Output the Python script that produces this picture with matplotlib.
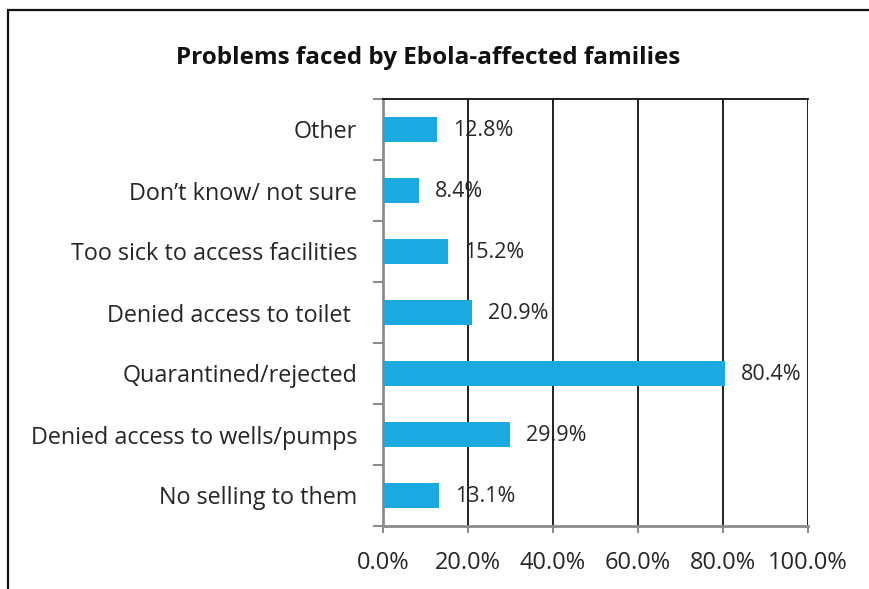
import matplotlib
matplotlib.use("Agg")
import matplotlib.pyplot as plt
from matplotlib.patches import Rectangle
from matplotlib.ticker import FixedLocator

categories = [
    "No selling to them",
    "Denied access to wells/pumps",
    "Quarantined/rejected",
    "Denied access to toilet ",
    "Too sick to access facilities",
    "Don\u2019t know/ not sure",
    "Other",
]
values = [13.1, 29.9, 80.4, 20.9, 15.2, 8.4, 12.8]
x_ticks = [0, 20, 40, 60, 80, 100]
x_tick_labels = ["0.0%", "20.0%", "40.0%", "60.0%", "80.0%", "100.0%"]
title = "Problems faced by Ebola-affected families"

W, H = 870, 589
plt.rcParams["font.family"] = ["Open Sans", "DejaVu Sans"]
text_color = "#262626"
bar_color = "#1AAAE0"
axis_gray = "#8C8C8C"

fig = plt.figure(figsize=(W / 100, H / 100), dpi=100)

# Outer chart frame (runs off the right and bottom edges)
fig.patches.append(Rectangle((8 / W, -0.05), 1.0, 1 - 10 / H + 0.05,
                             transform=fig.transFigure, fill=False,
                             edgecolor="#111111", linewidth=1.6))

left, right, top, bottom = 383, 808, 99, 526
ax = fig.add_axes([left / W, 1 - bottom / H, (right - left) / W, (bottom - top) / H])

y = list(range(len(categories)))
ax.barh(y, values, height=0.4, color=bar_color, zorder=3)
ax.set_xlim(0, 100)
ax.set_ylim(-0.5, len(categories) - 0.5)

for yi, v in zip(y, values):
    ax.annotate(f"{v:.1f}%", xy=(v, yi), xytext=(11.5, -1), textcoords="offset points",
                va="center", ha="left", fontsize=15.5, color=text_color, zorder=4)

# Vertical gridlines
for xv in x_ticks[1:]:
    ax.axvline(xv, color="#111111", linewidth=1.3, zorder=2)

ax.set_xticks(x_ticks)
ax.set_xticklabels(x_tick_labels, fontsize=17, color=text_color)
ax.tick_params(axis="x", length=5, width=1.5, color=axis_gray, pad=13)

ax.yaxis.set_major_locator(FixedLocator(y))
ax.set_yticklabels(categories, fontsize=16.8, color=text_color)
ax.yaxis.set_minor_locator(FixedLocator([i - 0.5 for i in range(len(categories) + 1)]))
ax.tick_params(axis="y", which="major", length=0, pad=18.5)
ax.tick_params(axis="y", which="minor", length=7, width=1.5, color=axis_gray)

ax.spines["top"].set_color("#111111")
ax.spines["top"].set_linewidth(1.3)
ax.spines["right"].set_visible(False)
ax.spines["left"].set_color(axis_gray)
ax.spines["left"].set_linewidth(2)
ax.spines["bottom"].set_color(axis_gray)
ax.spines["bottom"].set_linewidth(2)

fig.text(428 / W, 1 - 58 / H, title, ha="center", va="center",
         fontsize=17.5, fontweight="bold", color="#111111")

fig.savefig("out.png", dpi=100)
